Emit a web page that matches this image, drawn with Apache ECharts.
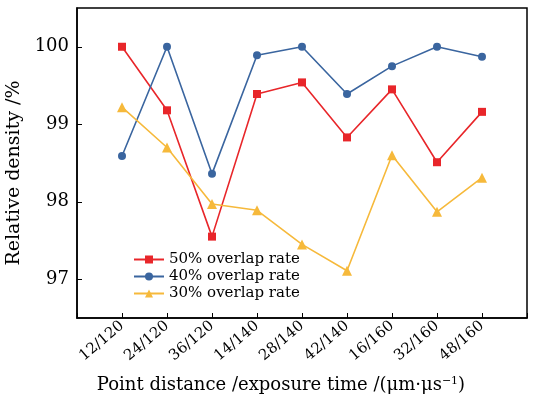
<!DOCTYPE html>
<html>
<head>
<meta charset="utf-8">
<script src="https://cdn.jsdelivr.net/npm/echarts@6/dist/echarts.min.js"></script>
<style>
  html, body { margin: 0; padding: 0; background: #fff; }
  #chart { width: 535px; height: 401px; }
</style>
</head>
<body>
<div id="chart"></div>
<script>
// 横轴类别（点距/曝光时间）
const categories = ['12/120', '24/120', '36/120', '14/140', '28/140', '42/140', '16/160', '32/160', '48/160'];
// 三种搭接率的相对密度
const rate50 = [100.0, 99.18, 97.55, 99.39, 99.54, 98.83, 99.45, 98.51, 99.16];
const rate40 = [98.59, 100.0, 98.36, 99.89, 100.0, 99.39, 99.75, 100.0, 99.87];
const rate30 = [99.22, 98.70, 97.97, 97.89, 97.45, 97.11, 98.60, 97.87, 98.31];
const seriesNames = ['50% overlap rate', '40% overlap rate', '30% overlap rate'];

const FONT = 'DejaVu Serif';
const toPoints = arr => arr.map((v, i) => [i + 1, v]);

const chart = echarts.init(document.getElementById('chart'));

function line(name, data, color, symbol, size) {
    return {
        name: name,
        type: 'line',
        data: toPoints(data),
        symbol: symbol,
        symbolSize: size,
        lineStyle: {color: color, width: 1.6},
        itemStyle: {color: color},
        animation: false
    };
}

chart.setOption({
    grid: {
        left: 77, right: 8, top: 8, bottom: 83,
        outerBoundsMode: 'none',
        show: true, borderColor: '#000', borderWidth: 1.5
    },
    legend: {
        orient: 'vertical',
        left: 128,
        top: 247,
        itemWidth: 30,
        itemHeight: 10,
        itemGap: 2,
        textStyle: {fontFamily: FONT, fontSize: 15, color: '#000'},
        data: seriesNames
    },
    xAxis: {
        type: 'value',
        min: 0,
        max: 10,
        interval: 1,
        splitLine: {show: false},
        axisLine: {lineStyle: {color: '#000', width: 1.5}},
        axisTick: {inside: true, length: 5, lineStyle: {color: '#000'}},
        axisLabel: {
            rotate: 40,
            margin: 6,
            fontFamily: FONT,
            fontSize: 15,
            color: '#000',
            formatter: v => categories[v - 1] || ''
        },
        name: 'Point distance /exposure time /(μm·μs{sup|−1})',
        nameLocation: 'middle',
        nameGap: 58,
        nameTextStyle: {
            fontFamily: FONT, fontSize: 18, color: '#000',
            padding: [0, 42, 0, 0],
            rich: {sup: {fontFamily: FONT, fontSize: 11, verticalAlign: 'top', padding: [0, 0, 8, 0]}}
        }
    },
    yAxis: {
        type: 'value',
        min: 96.5,
        max: 100.5,
        splitNumber: 4,
        splitLine: {show: false},
        axisLine: {show: true, lineStyle: {color: '#000', width: 1.5}},
        axisTick: {inside: true, length: 5, lineStyle: {color: '#000'}},
        axisLabel: {
            showMinLabel: false,
            showMaxLabel: false,
            margin: 8,
            fontFamily: FONT,
            fontSize: 18,
            color: '#000',
            formatter: v => (Number.isInteger(v) ? String(v) : '')
        },
        name: 'Relative density /%',
        nameLocation: 'middle',
        nameGap: 48,
        nameTextStyle: {fontFamily: FONT, fontSize: 19, color: '#000', padding: [0, 20, 0, 0]}
    },
    series: [
        line(seriesNames[0], rate50, '#e8262a', 'rect', 8),
        line(seriesNames[1], rate40, '#3a659f', 'circle', 8),
        line(seriesNames[2], rate30, '#f6b93b', 'triangle', 10)
    ]
});
</script>
</body>
</html>
